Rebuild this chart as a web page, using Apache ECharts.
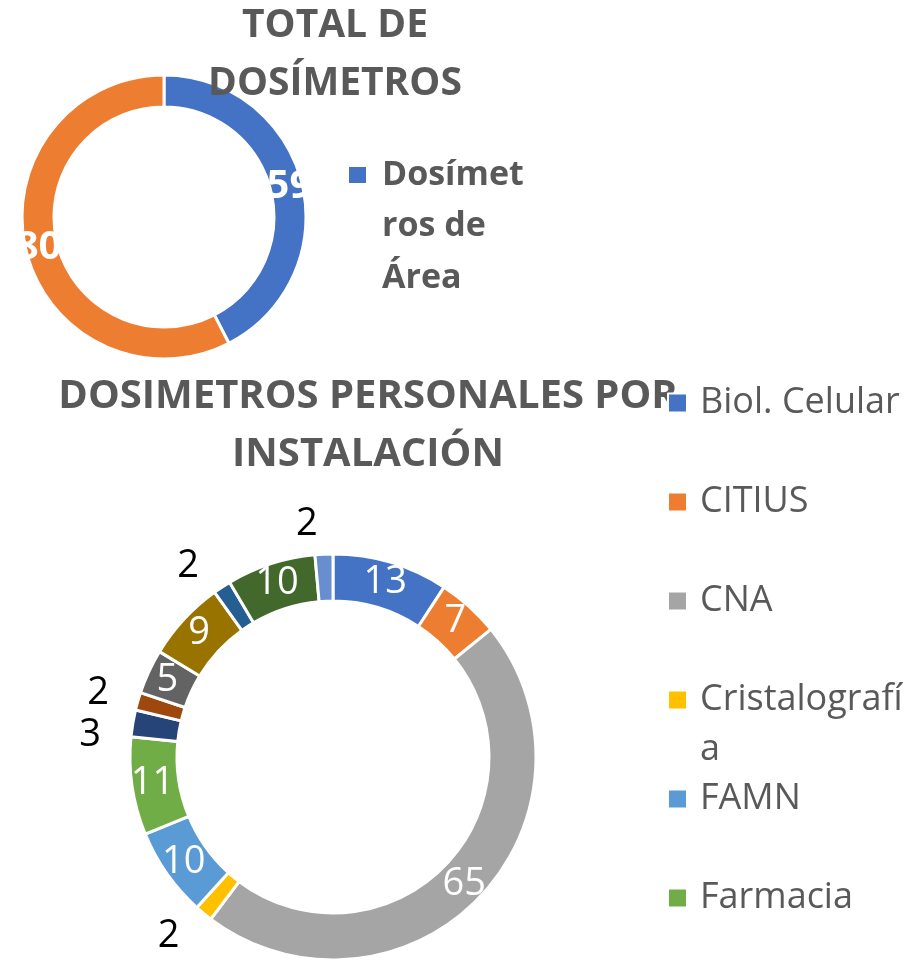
<!DOCTYPE html>
<html>
<head>
<meta charset="utf-8">
<script src="https://cdn.jsdelivr.net/npm/echarts@6/dist/echarts.min.js"></script>
<style>
  html, body { margin: 0; padding: 0; background: #fff; }
  #chart { width: 914px; height: 963px; }
</style>
</head>
<body>
<div id="chart"></div>
<script>
// --- data: total dosimeters ---
const totalNames = ['Dosímetros de Área', ''];
const totalValues = [59, 80];
const totalLegendLabels = ['Dosímet\nros de\nÁrea'];

// --- data: personal dosimeters per installation ---
const installNames = ['Biol. Celular', 'CITIUS', 'CNA', 'Cristalografía', 'FAMN', 'Farmacia',
  '', '', '', '', '', '', ''];
const installValues = [13, 7, 65, 2, 10, 11, 3, 2, 5, 9, 2, 10, 2];
const installLegendLabels = ['Biol. Celular', 'CITIUS', 'CNA', 'Cristalografí\na', 'FAMN', 'Farmacia'];

const officeColors = ['#4472C4', '#ED7D31', '#A5A5A5', '#FFC000', '#5B9BD5', '#70AD47',
  '#264478', '#9E480E', '#636363', '#997300', '#255E91', '#43682B', '#698ED0'];

const FONT = 'Open Sans';
const TEXT_GREY = '#595959';

// blank lines above a wrapped label keep the icon level with its first line
function padLabel(label) {
  const n = label.split('\n').length;
  return ' \n'.repeat(n - 1) + label;
}

const totalData = totalValues.map((v, i) => ({
  name: totalNames[i], value: v, itemStyle: { color: officeColors[i] }
}));

// thin slices get their number outside the ring, in black
const installData = installValues.map((v, i) => {
  const item = { name: installNames[i], value: v, itemStyle: { color: officeColors[i] } };
  if (v <= 3) {
    item.label = { position: 'outside', color: '#000', lineHeight: 40 };
    item.labelLine = { show: false, length: 30, length2: 0 };
  }
  return item;
});

const legends = [];
legends.push({
  data: [totalNames[0]],
  formatter: () => padLabel(totalLegendLabels[0]),
  left: 347,
  top: 175 - 2.5 * 51.5,
  padding: 0,
  z: 10,
  icon: 'rect',
  itemWidth: 19,
  itemHeight: 18,
  selectedMode: false,
  textStyle: { fontFamily: FONT, fontWeight: 'bold', fontSize: 34, lineHeight: 51.5,
    color: TEXT_GREY, padding: [0, 0, 0, 10] }
});

installLegendLabels.forEach((label, i) => {
  const lines = label.split('\n').length * 2 - 1;
  legends.push({
    data: [installNames[i]],
    formatter: () => padLabel(label),
    left: 667,
    top: 403 + i * 99 - lines * 25,
    padding: 0,
    z: 10,
    icon: 'rect',
    itemWidth: 19,
    itemHeight: 19,
    selectedMode: false,
    textStyle: { fontFamily: FONT, fontSize: 36, lineHeight: 50,
      color: TEXT_GREY, padding: [0, 0, 0, 8] }
  });
});

const titleStyle = { fontFamily: FONT, fontWeight: 'bold', fontSize: 39, lineHeight: 58, color: TEXT_GREY };

const option = {
  animation: false,
  backgroundColor: '#fff',
  title: [
    { text: 'TOTAL DE\nDOSÍMETROS', left: 335, top: -3, padding: 0, textAlign: 'center', textStyle: titleStyle },
    { text: 'DOSIMETROS PERSONALES POR\nINSTALACIÓN', left: 368, top: 368, padding: 0, textAlign: 'center',
      textStyle: Object.assign({}, titleStyle, { fontSize: 40 }) }
  ],
  legend: legends,
  series: [
    {
      type: 'pie',
      center: [164, 217],
      radius: [110, 142],
      startAngle: 90,
      clockwise: true,
      avoidLabelOverlap: false,
      emphasis: { disabled: true },
      itemStyle: { borderColor: '#fff', borderWidth: 3 },
      label: { show: true, position: 'inside', formatter: '{c}', color: '#fff',
        fontFamily: FONT, fontWeight: 'bold', fontSize: 40 },
      data: totalData
    },
    {
      type: 'pie',
      center: [333, 757],
      radius: [156, 203],
      startAngle: 90,
      clockwise: true,
      avoidLabelOverlap: true,
      emphasis: { disabled: true },
      itemStyle: { borderColor: '#fff', borderWidth: 3 },
      label: { show: true, position: 'inside', formatter: '{c}', color: '#fff',
        fontFamily: FONT, fontSize: 38 },
      labelLayout: { hideOverlap: false },
      data: installData
    }
  ]
};

const chart = echarts.init(document.getElementById('chart'), null, { renderer: 'canvas' });
chart.setOption(option);
</script>
</body>
</html>
